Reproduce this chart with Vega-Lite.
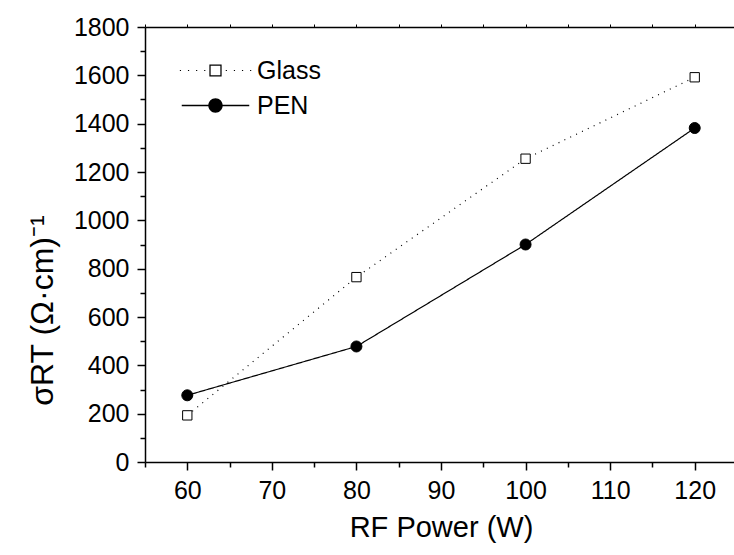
{
  "$schema": "https://vega.github.io/schema/vega-lite/v6.json",
  "width": 592,
  "height": 435,
  "autosize": {"type": "none"},
  "padding": {"left": 145, "top": 27, "right": 0, "bottom": 93},
  "background": "white",
  "config": {"view": {"stroke": null}, "font": "Liberation Sans"},
  "data": {
    "values": [
      {"power": 60, "sigma": 193, "substrate": "Glass"},
      {"power": 80, "sigma": 765, "substrate": "Glass"},
      {"power": 100, "sigma": 1255, "substrate": "Glass"},
      {"power": 120, "sigma": 1592, "substrate": "Glass"},
      {"power": 60, "sigma": 276, "substrate": "PEN"},
      {"power": 80, "sigma": 478, "substrate": "PEN"},
      {"power": 100, "sigma": 900, "substrate": "PEN"},
      {"power": 120, "sigma": 1382, "substrate": "PEN"}
    ]
  },
  "encoding": {
    "y": {
      "field": "sigma",
      "type": "quantitative",
      "scale": {"domain": [0, 1800], "nice": false},
      "axis": {
        "values": [0, 100, 200, 300, 400, 500, 600, 700, 800, 900, 1000, 1100, 1200, 1300, 1400, 1500, 1600, 1700, 1800],
        "format": "d",
        "labelExpr": "datum.value % 200 === 0 ? datum.label : ''",
        "labelOverlap": false,
        "labelFlush": false,
        "tickSize": {"condition": {"test": "datum.value % 200 === 0", "value": 8}, "value": 5},
        "grid": false,
        "domainColor": "black",
        "domainWidth": 1.5,
        "tickColor": "black",
        "tickWidth": 1.5,
        "labelFontSize": 25,
        "labelColor": "black",
        "labelPadding": 8,
        "title": "σRT (Ω·cm)⁻¹",
        "titleFontSize": 32,
        "titleFontWeight": "normal",
        "titleColor": "black",
        "titleY": 283,
        "titlePadding": 14
      }
    }
  },
  "layer": [
    {
      "mark": {"type": "line", "color": "black", "strokeWidth": 1.2},
      "encoding": {
        "x": {
          "field": "power",
          "type": "quantitative",
          "scale": {"domain": [55, 125], "nice": false, "zero": false},
          "axis": {
            "orient": "bottom",
            "values": [55, 60, 65, 70, 75, 80, 85, 90, 95, 100, 105, 110, 115, 120, 125],
            "labelExpr": "datum.value % 10 === 0 ? datum.label : ''",
            "labelOverlap": false,
            "labelFlush": false,
            "tickSize": {"condition": {"test": "datum.value % 10 === 0", "value": 8}, "value": 5},
            "grid": false,
            "domainColor": "black",
            "domainWidth": 1.5,
            "tickColor": "black",
            "tickWidth": 1.5,
            "labelFontSize": 25,
            "labelColor": "black",
            "labelPadding": 8,
            "title": "RF Power (W)",
            "titleFontSize": 29,
            "titleFontWeight": "normal",
            "titleColor": "black",
            "titlePadding": 10
          }
        },
        "detail": {"field": "substrate", "type": "nominal"},
        "strokeDash": {"condition": {"test": "datum.substrate === 'Glass'", "value": [1, 5.5]}, "value": [1, 0]}
      }
    },
    {
      "mark": {"type": "point", "filled": true, "stroke": "black", "strokeWidth": 1, "opacity": 1},
      "encoding": {
        "x": {
          "field": "power",
          "type": "quantitative",
          "scale": {"domain": [55, 125], "nice": false, "zero": false},
          "axis": {
            "orient": "top",
            "values": [55, 60, 65, 70, 75, 80, 85, 90, 95, 100, 105, 110, 115, 120, 125],
            "labels": false,
            "tickSize": 3,
            "grid": false,
            "domainColor": "black",
            "domainWidth": 1.5,
            "tickColor": "black",
            "tickWidth": 1,
            "title": null
          }
        },
        "shape": {"condition": {"test": "datum.substrate === 'Glass'", "value": "square"}, "value": "circle"},
        "fill": {"condition": {"test": "datum.substrate === 'Glass'", "value": "white"}, "value": "black"},
        "size": {"condition": {"test": "datum.substrate === 'Glass'", "value": 87}, "value": 121}
      }
    },
    {
      "mark": {"type": "point", "filled": true, "color": "black", "strokeWidth": 0, "opacity": 0},
      "encoding": {
        "x": {
          "field": "power",
          "type": "quantitative",
          "scale": {"domain": [55, 125], "nice": false, "zero": false},
          "axis": null
        },
        "shape": {
          "field": "substrate",
          "type": "nominal",
          "scale": {
            "domain": ["Glass", "PEN"],
            "range": [
              "M-3.96,-0.065h0.13v0.13h-0.13zM-3.06,-0.065h0.13v0.13h-0.13zM-2.16,-0.065h0.13v0.13h-0.13zM-1.26,-0.065h0.13v0.13h-0.13zM-0.68,-0.68H0.68V0.68H-0.68ZM-0.54,-0.54V0.54H0.54V-0.54ZM1.14,-0.065h0.13v0.13h-0.13zM2.04,-0.065h0.13v0.13h-0.13zM2.94,-0.065h0.13v0.13h-0.13zM3.84,-0.065h0.13v0.13h-0.13z",
              "M-3.75,-0.07H3.75V0.07H-3.75ZM0.8,0A0.8,0.8,0,1,1,-0.8,0A0.8,0.8,0,1,1,0.8,0Z"
            ]
          },
          "legend": {
            "orient": "none",
            "legendX": 58,
            "legendY": 31,
            "title": null,
            "symbolSize": 324,
            "labelFontSize": 25,
            "labelFont": "Liberation Sans",
            "labelColor": "black",
            "labelOffset": 29,
            "rowPadding": 9,
            "symbolFillColor": "black",
            "symbolStrokeColor": "black",
            "symbolStrokeWidth": 0,
            "symbolOpacity": 1
          }
        }
      }
    }
  ],
  "resolve": {"axis": {"x": "independent"}}
}
